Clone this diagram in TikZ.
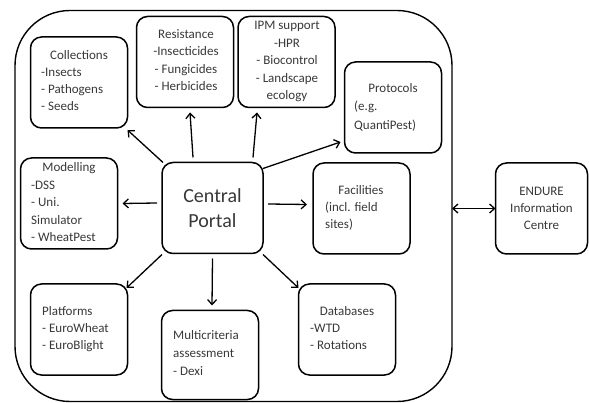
\documentclass[tikz,border=0pt]{standalone}
\usepackage{fontspec}
\setmainfont{Carlito}
\usetikzlibrary{arrows.meta}
\begin{document}
\begin{tikzpicture}[x=1pt,y=-1pt,
  box/.style={draw, line width=1.5pt, rounded corners=11pt, minimum width=97pt, minimum height=91pt, inner sep=0pt, outer sep=0pt},
  txt/.style={text=black!78, font=\fontsize{13}{17}\selectfont, inner sep=0pt},
  tl/.style={txt, anchor=mid west},
  tc/.style={txt, anchor=mid},
  arr/.style={line width=1.3pt, -{Straight Barb[length=5pt,width=9pt]}}]
\useasboundingbox (0,0) rectangle (589,403);
\node[draw, line width=1.4pt, rounded corners=55pt, minimum width=437pt, minimum height=391pt, inner sep=0pt, outer sep=0pt] (portal) at (233.5,206) {};
% boxes
\node[box] (coll) at (79,82.5) {};
\node[box] (res) at (185,62) {};
\node[box] (ipm) at (286.5,62) {};
\node[box] (prot) at (393,107.5) {};
\node[box] (mod) at (69,203.5) {};
\node[box, minimum width=101pt, txt, align=center, font=\fontsize{20}{25}\selectfont] (central) at (212.5,208) {Central\\Portal};
\node[box] (fac) at (361.5,208.5) {};
\node[box, minimum width=92pt, txt, align=center] (endure) at (541.5,208.5) {ENDURE\\Information\\Centre};
\node[box] (plat) at (79,329.5) {};
\node[box, minimum height=89pt] (multi) at (210,355) {};
\node[box] (db) at (347,329.5) {};
% texts
\node[tc] (coll1) at (79,57) {Collections};
\node[tl] (coll2) at (41,74) {-Insects};
\node[tl] (coll3) at (41,91) {- Pathogens};
\node[tl] (coll4) at (41,108) {- Seeds};
\node[tc] (res1) at (186,36) {Resistance};
\node[tc] (res2) at (186,53) {-Insecticides};
\node[tc] (res3) at (186,71) {- Fungicides};
\node[tc] (res4) at (186,88) {- Herbicides};
\node[tc] (ipm1) at (287,27) {IPM support};
\node[tc] (ipm2) at (287,45) {-HPR};
\node[tc] (ipm3) at (287,62) {- Biocontrol};
\node[tc] (ipm4) at (287,80) {- Landscape};
\node[tc] (ipm5) at (287,97) {ecology};
\node[tc] (prot1) at (393,90) {Protocols};
\node[tl] (prot2) at (354,108) {(e.g.};
\node[tl] (prot3) at (354,127) {QuantiPest)};
\node[tc] (mod1) at (69,169) {Modelling};
\node[tl] (mod2) at (31,187) {-DSS};
\node[tl] (mod3) at (31,204) {- Uni.};
\node[tl] (mod4) at (31,222) {Simulator};
\node[tl] (mod5) at (31,239) {- WheatPest};
\node[tc] (fac1) at (361,192) {Facilities};
\node[tl] (fac2) at (325,209) {(incl. field};
\node[tl] (fac3) at (325,226) {sites)};
\node[tl] (plat1) at (42,313) {Platforms};
\node[tl] (plat2) at (42,330) {- EuroWheat};
\node[tl] (plat3) at (42,347) {- EuroBlight};
\node[tl] (multi1) at (173,337) {Multicriteria};
\node[tl] (multi2) at (173,355) {assessment};
\node[tl] (multi3) at (173,373) {- Dexi};
\node[tc] (db1) at (347,313) {Databases};
\node[tl] (db2) at (310,330) {-WTD};
\node[tl] (db3) at (310,347) {- Rotations};
% arrows
\draw[arr] ([shift={(1pt,0pt)}]central.north west) -- ([shift={(0pt,-2pt)}]coll.south east);
\draw[arr] ([shift={(-19.5pt,5pt)}]central.north) -- ([shift={(5pt,-5pt)}]res.south);
\draw[arr] ([shift={(40.5pt,5pt)}]central.north) -- ([shift={(-29.5pt,-5pt)}]ipm.south);
\draw[arr] ([shift={(0pt,-6pt)}]central.north east) -- ([shift={(-4pt,11pt)}]prot.south west);
\draw[arr] ([shift={(-5pt,5pt)}]central.west) -- ([shift={(5pt,0pt)}]mod.east);
\draw[arr] ([shift={(5pt,4pt)}]central.east) -- ([shift={(-6pt,4pt)}]fac.west);
\draw[arr] ([shift={(0pt,-1pt)}]central.south west) -- ([shift={(-1pt,-4pt)}]plat.north east);
\draw[arr] ([shift={(0pt,-5pt)}]central.south) -- ([shift={(2pt,5pt)}]multi.north);
\draw[arr] ([shift={(0pt,-1pt)}]central.south east) -- ([shift={(0pt,-4pt)}]db.north west);
\draw[line width=1.3pt, {Straight Barb[length=5pt,width=9pt]}-{Straight Barb[length=5pt,width=9pt]}] (endure.west -| portal.east) -- (endure.west);
\end{tikzpicture}
\end{document}
